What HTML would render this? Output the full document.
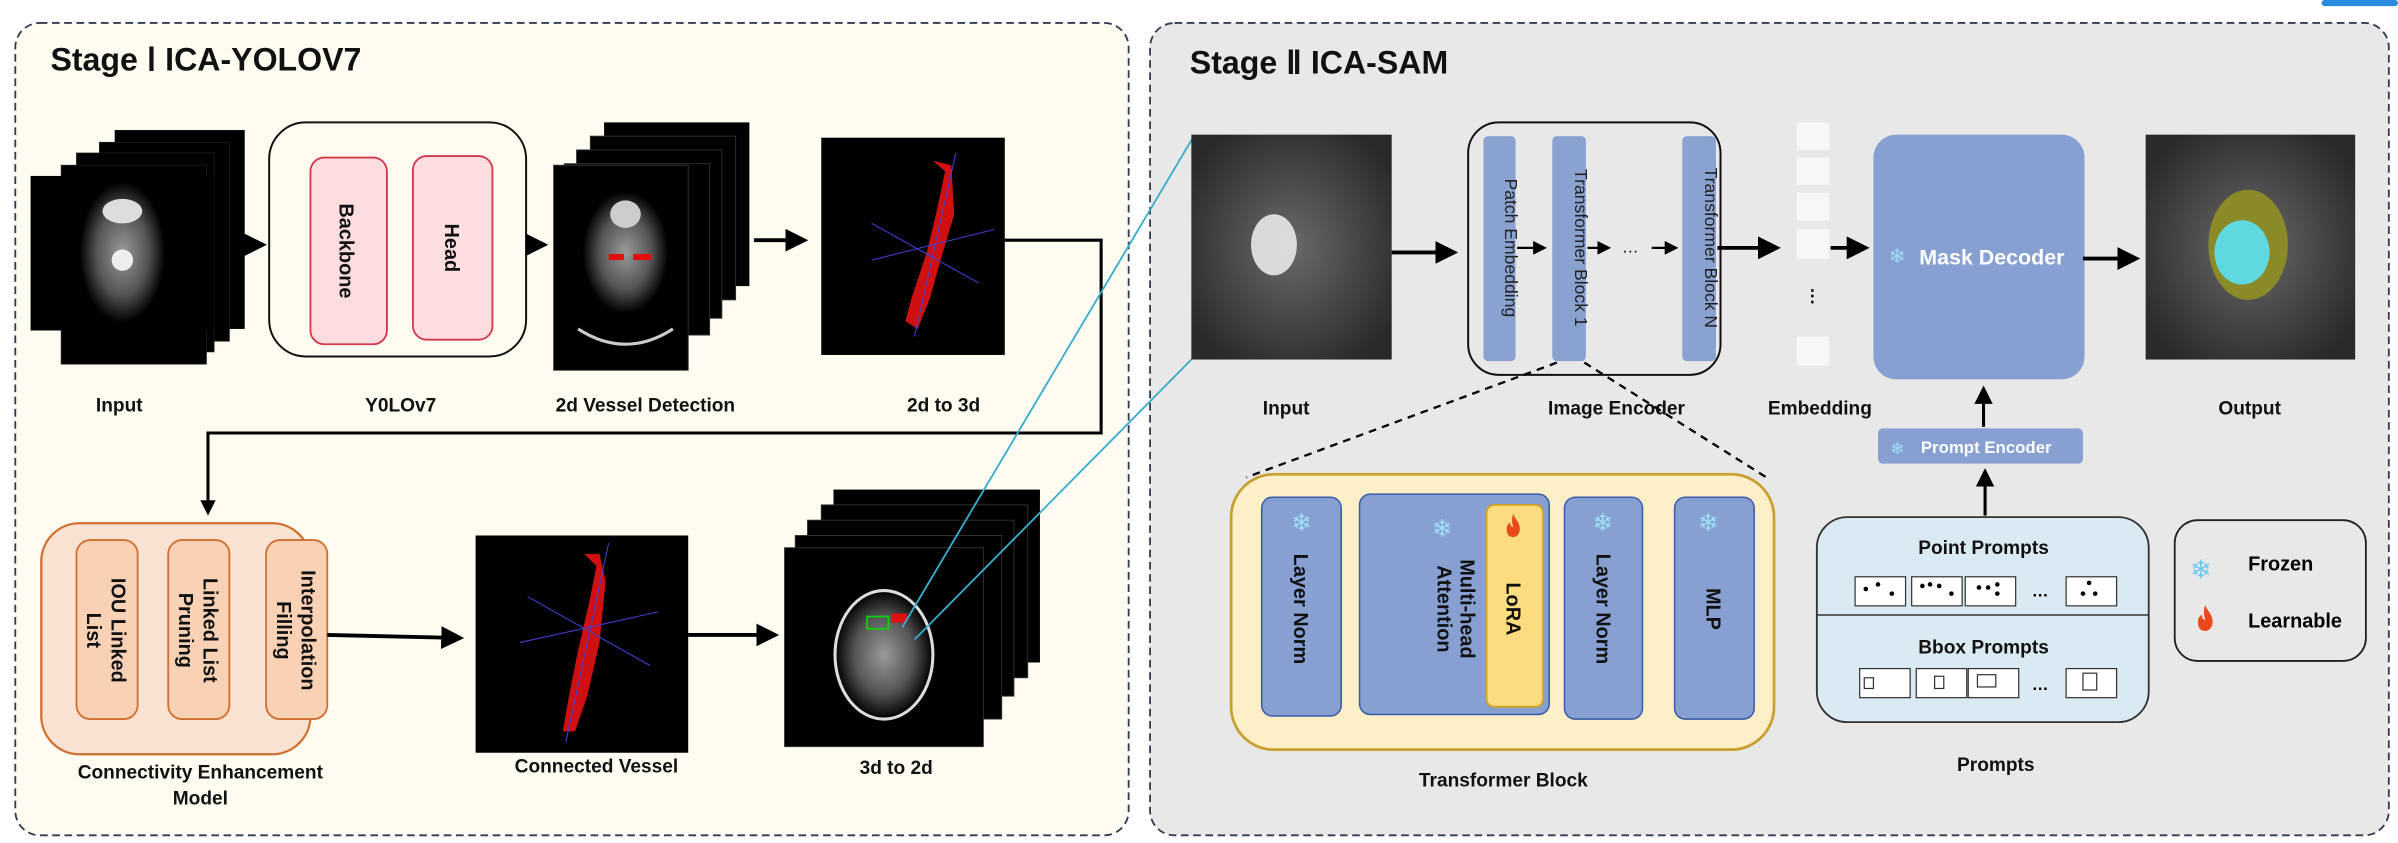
<!DOCTYPE html>
<html><head><meta charset="utf-8"><style>
html,body{margin:0;padding:0;background:#fff;}
svg{display:block;}
text{font-family:"Liberation Sans",Arial,sans-serif;}
.lb{font-size:12.5px;font-weight:bold;fill:#111;text-anchor:middle;}
.vt{font-size:13px;font-weight:bold;fill:#111;text-anchor:middle;}
</style></head><body>
<svg width="2398" height="843" viewBox="0 0 1568 551" preserveAspectRatio="none" xmlns="http://www.w3.org/2000/svg">
<defs>
<marker id="ah" markerWidth="6" markerHeight="6" refX="5" refY="3" orient="auto" markerUnits="strokeWidth"><path d="M0,0 L6,3 L0,6 z" fill="#000"/></marker>
<radialGradient id="ct" cx="50%" cy="50%" r="50%"><stop offset="0" stop-color="#9a9a9a"/><stop offset="0.6" stop-color="#555"/><stop offset="1" stop-color="#000"/></radialGradient>
<radialGradient id="blur" cx="50%" cy="50%" r="60%"><stop offset="0" stop-color="#6a6a6a"/><stop offset="1" stop-color="#2a2a2a"/></radialGradient>
<symbol id="fire" viewBox="0 0 10 14"><path d="M5 0 C6 3 9 5 9 9 C9 12 7 14 5 14 C2 14 1 12 1 9 C1 7 2 6 3 5 C3 7 4 8 5 8 C4 5 4 2 5 0 Z" fill="#e84a1c"/></symbol>
</defs>
<rect x="1518" y="0" width="50" height="4" rx="2" fill="#2a8ae0"/>
<rect x="10" y="15" width="728" height="531" rx="16" fill="#fefbf0" stroke="#333b55" stroke-width="1.2" stroke-dasharray="5,3"/>
<rect x="752" y="15" width="810" height="531" rx="16" fill="#e8e8e8" stroke="#333b55" stroke-width="1.2" stroke-dasharray="5,3"/>
<text x="33" y="46" font-size="21" font-weight="bold" fill="#111">Stage Ⅰ ICA-YOLOV7</text>
<text x="778" y="48" font-size="21" font-weight="bold" fill="#111">Stage Ⅱ  ICA-SAM</text>

<g>
<rect x="75" y="85" width="85" height="130" fill="#000"/>
<rect x="65" y="93" width="85" height="130" fill="#000" stroke="#222" stroke-width="0.5"/>
<rect x="50" y="100" width="90" height="130" fill="#000" stroke="#222" stroke-width="0.5"/>
<rect x="40" y="108" width="95" height="130" fill="#000" stroke="#222" stroke-width="0.5"/>
<rect x="20" y="115" width="120" height="101" fill="#000"/>
<ellipse cx="80" cy="165" rx="28" ry="46" fill="url(#ct)"/>
<ellipse cx="80" cy="138" rx="13" ry="8" fill="#ddd"/>
<circle cx="80" cy="170" r="7" fill="#eee"/>
</g>
<line x1="160" y1="160" x2="172" y2="160" stroke="#000" stroke-width="2.5" marker-end="url(#ah)"/>
<rect x="176" y="80" width="168" height="153" rx="24" fill="#fffbf0" stroke="#111" stroke-width="1.3"/>
<rect x="203" y="103" width="50" height="122" rx="9" fill="#fddde0" stroke="#d03a4a" stroke-width="1.2"/>
<rect x="270" y="102" width="52" height="120" rx="9" fill="#fddde0" stroke="#d03a4a" stroke-width="1.2"/>
<text class="vt" transform="translate(222,164) rotate(90)" font-size="14">Backbone</text>
<text class="vt" transform="translate(291,162) rotate(90)" font-size="14">Head</text>
<line x1="344" y1="160" x2="356" y2="160" stroke="#000" stroke-width="2.5" marker-end="url(#ah)"/>
<rect x="395" y="80" width="95" height="107" fill="#000"/>
<rect x="386" y="89" width="95" height="107" fill="#000" stroke="#333" stroke-width="0.6"/>
<rect x="377" y="98" width="95" height="110" fill="#000" stroke="#333" stroke-width="0.6"/>
<rect x="369" y="107" width="95" height="112" fill="#000" stroke="#333" stroke-width="0.6"/>
<rect x="362" y="108" width="88" height="134" fill="#000" stroke="#333" stroke-width="0.6"/>
<ellipse cx="409" cy="165" rx="28" ry="40" fill="url(#ct)"/>
<ellipse cx="409" cy="140" rx="10" ry="9" fill="#ccc"/>
<rect x="398" y="166" width="10" height="4" fill="#e01010"/><rect x="414" y="166" width="12" height="4" fill="#e01010"/>
<path d="M378 215 Q409 235 440 215" stroke="#ccc" stroke-width="2" fill="none"/>
<line x1="493" y1="157" x2="526" y2="157" stroke="#000" stroke-width="2.5" marker-end="url(#ah)"/>
<rect x="537" y="90" width="120" height="142" fill="#000"/>
<path d="M610 105 L618 112 L612 140 L606 165 L596 195 L592 210 L600 215 L608 195 L615 170 L624 140 L622 108 Z" fill="#d01010"/>
<line x1="570" y1="146" x2="640" y2="185" stroke="#4040d0" stroke-width="0.7"/>
<line x1="570" y1="170" x2="650" y2="150" stroke="#4040d0" stroke-width="0.7"/>
<line x1="625" y1="100" x2="598" y2="220" stroke="#4040d0" stroke-width="0.7"/>
<polyline points="657,157 720,157 720,283 136,283 136,328" fill="none" stroke="#000" stroke-width="2"/>
<path d="M131 327 L141 327 L136 337 Z" fill="#000"/>
<text class="lb" x="78" y="269">Input</text>
<text class="lb" x="262" y="269">Y0LOv7</text>
<text class="lb" x="422" y="269">2d Vessel Detection</text>
<text class="lb" x="617" y="269">2d to 3d</text>
<rect x="27" y="342" width="176" height="151" rx="25" fill="#fbe3d4" stroke="#d07030" stroke-width="1.5"/>
<rect x="50" y="353" width="40" height="117" rx="9" fill="#f9d2b6" stroke="#d07030" stroke-width="1.2"/>
<rect x="110" y="353" width="40" height="117" rx="9" fill="#f9d2b6" stroke="#d07030" stroke-width="1.2"/>
<rect x="174" y="353" width="40" height="117" rx="9" fill="#f9d2b6" stroke="#d07030" stroke-width="1.2"/>
<text class="vt" font-size="13.5" transform="translate(73,412) rotate(90)"><tspan x="0" dy="0">IOU Linked</tspan><tspan x="0" dy="16">List</tspan></text>
<text class="vt" font-size="13.5" transform="translate(133,412) rotate(90)"><tspan x="0" dy="0">Linked List</tspan><tspan x="0" dy="16">Pruning</tspan></text>
<text class="vt" font-size="13.5" transform="translate(197,412) rotate(90)"><tspan x="0" dy="0">Interpolation</tspan><tspan x="0" dy="16">Filling</tspan></text>
<text class="lb" x="131" y="509">Connectivity Enhancement</text>
<text class="lb" x="131" y="526">Model</text>
<line x1="214" y1="415" x2="301" y2="417" stroke="#000" stroke-width="2.5" marker-end="url(#ah)"/>
<rect x="311" y="350" width="139" height="142" fill="#000"/>
<path d="M382 362 L390 370 L385 395 L378 425 L372 455 L368 478 L376 478 L384 455 L392 420 L396 380 L392 362 Z" fill="#d01010"/>
<line x1="345" y1="390" x2="425" y2="435" stroke="#4040d0" stroke-width="0.7"/>
<line x1="340" y1="420" x2="430" y2="400" stroke="#4040d0" stroke-width="0.7"/>
<line x1="398" y1="355" x2="370" y2="485" stroke="#4040d0" stroke-width="0.7"/>
<text class="lb" x="390" y="505">Connected Vessel</text>
<line x1="450" y1="415" x2="507" y2="415" stroke="#000" stroke-width="2.5" marker-end="url(#ah)"/>
<rect x="545" y="320" width="135" height="113" fill="#000"/>
<rect x="537" y="330" width="135" height="113" fill="#000" stroke="#333" stroke-width="0.6"/>
<rect x="528" y="340" width="135" height="115" fill="#000" stroke="#333" stroke-width="0.6"/>
<rect x="520" y="350" width="135" height="120" fill="#000" stroke="#333" stroke-width="0.6"/>
<rect x="513" y="358" width="130" height="130" fill="#000" stroke="#333" stroke-width="0.6"/>
<ellipse cx="578" cy="428" rx="32" ry="42" fill="url(#ct)" stroke="#ddd" stroke-width="2"/>
<rect x="567" y="403" width="14" height="8" fill="none" stroke="#1c1" stroke-width="1.2"/>
<rect x="583" y="401" width="10" height="6" fill="#e01010"/>
<text class="lb" x="586" y="506">3d to 2d</text>
<line x1="590" y1="410" x2="780" y2="90" stroke="#3aaccc" stroke-width="1.2"/>
<line x1="598" y1="418" x2="780" y2="234" stroke="#3aaccc" stroke-width="1.2"/>

<rect x="779" y="88" width="131" height="147" fill="url(#blur)"/>
<ellipse cx="833" cy="160" rx="15" ry="20" fill="#e8e8e8" opacity="0.9"/>
<text class="lb" x="841" y="271">Input</text>
<line x1="910" y1="165" x2="951" y2="165" stroke="#000" stroke-width="2.5" marker-end="url(#ah)"/>
<rect x="960" y="80" width="165" height="165" rx="20" fill="none" stroke="#111" stroke-width="1.3"/>
<rect x="970" y="89" width="21" height="147" rx="3" fill="#8aa2d0"/>
<rect x="1015" y="89" width="22" height="147" rx="3" fill="#8aa2d0"/>
<rect x="1100" y="89" width="22" height="147" rx="3" fill="#8aa2d0"/>
<text font-size="11.5" fill="#222" text-anchor="middle" transform="translate(984,162) rotate(90)">Patch Embedding</text>
<text font-size="11.5" fill="#222" text-anchor="middle" transform="translate(1030,162) rotate(90)">Transformer Block 1</text>
<text font-size="11.5" fill="#222" text-anchor="middle" transform="translate(1115,162) rotate(90)">Transformer Block N</text>
<line x1="992" y1="162" x2="1010" y2="162" stroke="#000" stroke-width="1.5" marker-end="url(#ah)"/>
<line x1="1038" y1="162" x2="1052" y2="162" stroke="#000" stroke-width="1.5" marker-end="url(#ah)"/>
<text x="1066" y="165" font-size="11" text-anchor="middle">…</text>
<line x1="1080" y1="162" x2="1096" y2="162" stroke="#000" stroke-width="1.5" marker-end="url(#ah)"/>
<text class="lb" x="1057" y="271">Image Encoder</text>
<line x1="1123" y1="162" x2="1162" y2="162" stroke="#000" stroke-width="2.5" marker-end="url(#ah)"/>
<g fill="#f7f7f5">
<rect x="1175" y="80" width="21" height="18"/><rect x="1175" y="103" width="21" height="18"/>
<rect x="1175" y="126" width="21" height="18"/><rect x="1175" y="150" width="21" height="19"/>
<rect x="1175" y="220" width="21" height="19"/></g>
<text x="1185" y="197" font-size="11" text-anchor="middle" font-weight="bold">⋮</text>
<text class="lb" x="1190" y="271">Embedding</text>
<line x1="1197" y1="162" x2="1220" y2="162" stroke="#000" stroke-width="2.5" marker-end="url(#ah)"/>
<rect x="1225" y="88" width="138" height="160" rx="15" fill="#87a0d1"/>
<text x="1235" y="172" font-size="13" fill="#9ee0f5">❄</text>
<text x="1255" y="173" font-size="14" font-weight="bold" fill="#fff">Mask Decoder</text>
<line x1="1362" y1="169" x2="1397" y2="169" stroke="#000" stroke-width="2.5" marker-end="url(#ah)"/>
<rect x="1403" y="88" width="137" height="147" fill="url(#blur)"/>
<ellipse cx="1470" cy="160" rx="26" ry="36" fill="#8a8a28"/>
<ellipse cx="1466" cy="165" rx="18" ry="21" fill="#5fd8e0"/>
<text class="lb" x="1471" y="271">Output</text>
<rect x="1228" y="280" width="134" height="23" rx="3" fill="#87a0d1"/>
<text x="1236" y="297" font-size="11" fill="#9ee0f5">❄</text>
<text x="1256" y="296" font-size="11" font-weight="bold" fill="#fff">Prompt Encoder</text>
<line x1="1297" y1="279" x2="1297" y2="254" stroke="#000" stroke-width="2" marker-end="url(#ah)"/>
<line x1="1298" y1="337" x2="1298" y2="308" stroke="#000" stroke-width="2" marker-end="url(#ah)"/>
<rect x="1188" y="338" width="217" height="134" rx="20" fill="#daeaf2" stroke="#333" stroke-width="1.2"/>
<line x1="1188" y1="402" x2="1405" y2="402" stroke="#333" stroke-width="1"/>
<text class="lb" x="1297" y="362" font-size="13.5">Point Prompts</text>
<text class="lb" x="1297" y="427" font-size="13.5">Bbox Prompts</text>
<g fill="#fff" stroke="#333" stroke-width="0.8">
<rect x="1213" y="377" width="33" height="19"/><rect x="1250" y="377" width="33" height="19"/><rect x="1285" y="377" width="33" height="19"/><rect x="1351" y="377" width="33" height="19"/>
<rect x="1216" y="437" width="33" height="19"/><rect x="1253" y="437" width="33" height="19"/><rect x="1287" y="437" width="33" height="19"/><rect x="1351" y="437" width="33" height="19"/>
<rect x="1219" y="443" width="6" height="7"/><rect x="1265" y="442" width="6" height="8"/><rect x="1293" y="441" width="12" height="8"/><rect x="1362" y="440" width="9" height="11"/></g>
<g fill="#000"><circle cx="1220" cy="385" r="1.5"/><circle cx="1228" cy="382" r="1.5"/><circle cx="1237" cy="388" r="1.5"/>
<circle cx="1257" cy="383" r="1.5"/><circle cx="1262" cy="382" r="1.5"/><circle cx="1268" cy="383" r="1.5"/><circle cx="1276" cy="388" r="1.5"/>
<circle cx="1294" cy="384" r="1.5"/><circle cx="1300" cy="384" r="1.5"/><circle cx="1306" cy="382" r="1.5"/><circle cx="1306" cy="388" r="1.5"/>
<circle cx="1366" cy="381" r="1.5"/><circle cx="1362" cy="388" r="1.5"/><circle cx="1370" cy="388" r="1.5"/></g>
<text x="1334" y="390" font-size="11" text-anchor="middle" font-weight="bold">…</text>
<text x="1334" y="451" font-size="11" text-anchor="middle" font-weight="bold">…</text>
<text class="lb" x="1305" y="504">Prompts</text>
<rect x="1422" y="340" width="125" height="92" rx="15" fill="#e8e8e8" stroke="#222" stroke-width="1.2"/>
<text x="1432" y="378" font-size="17" fill="#6cc8ef">❄</text>
<text x="1470" y="373" font-size="13" font-weight="bold">Frozen</text>
<use href="#fire" x="1436" y="395" width="12" height="18"/>
<text x="1470" y="410" font-size="13" font-weight="bold">Learnable</text>

<line x1="1018" y1="237" x2="815" y2="312" stroke="#000" stroke-width="1.5" stroke-dasharray="5,4"/>
<line x1="1036" y1="237" x2="1155" y2="312" stroke="#000" stroke-width="1.5" stroke-dasharray="5,4"/>
<rect x="805" y="310" width="355" height="180" rx="28" fill="#fdf0c8" stroke="#c8a030" stroke-width="1.8"/>
<g fill="#87a0d1" stroke="#3b5ca8" stroke-width="1">
<rect x="825" y="325" width="52" height="143" rx="7"/>
<rect x="889" y="323" width="124" height="144" rx="7"/>
<rect x="1023" y="325" width="51" height="145" rx="7"/>
<rect x="1095" y="325" width="52" height="145" rx="7"/></g>
<rect x="972" y="330" width="37" height="132" rx="5" fill="#fddc80" stroke="#d0a020" stroke-width="1.2"/>
<g font-size="16" fill="#9ee0f5" text-anchor="middle">
<text x="851" y="347">❄</text><text x="943" y="351">❄</text><text x="1048" y="347">❄</text><text x="1117" y="347">❄</text></g>
<use href="#fire" x="984" y="336" width="11" height="15"/>
<text class="vt" transform="translate(846,398) rotate(90)">Layer Norm</text>
<text class="vt" transform="translate(955,398) rotate(90)"><tspan x="0" dy="0">Multi-head</tspan><tspan x="0" dy="15">Attention</tspan></text>
<text class="vt" transform="translate(985,398) rotate(90)">LoRA</text>
<text class="vt" transform="translate(1044,398) rotate(90)">Layer Norm</text>
<text class="vt" transform="translate(1116,398) rotate(90)">MLP</text>
<text class="lb" x="983" y="514">Transformer Block</text>
</svg>
</body></html>
